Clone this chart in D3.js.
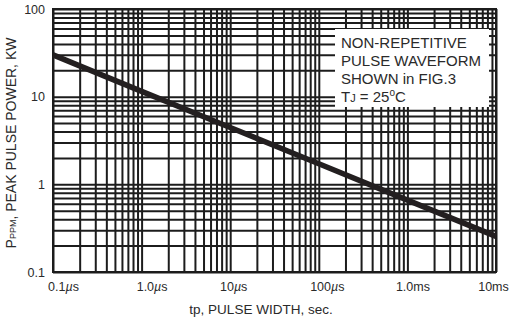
<!DOCTYPE html>
<html>
<head>
<meta charset="utf-8">
<script src="https://cdn.jsdelivr.net/npm/d3@7"></script>
<style>
  body { margin: 0; background: #fff; }
  text { font-family: "Liberation Sans", Arial, sans-serif; fill: #2a2a2a; }
</style>
</head>
<body>
<svg id="chart" width="513" height="320"></svg>
<script>
// pulse width (s) vs peak pulse power (kW)
var pulseWidth = [1e-7, 1e-6, 1e-5, 1e-4, 1e-3, 1e-2];
var peakPower = [30, 11.5, 4.45, 1.72, 0.66, 0.255];

var xDecades = [1e-7, 1e-6, 1e-5, 1e-4, 1e-3, 1e-2];
var xLabels = [["0.1", "\u00b5", "s"], ["1.0", "\u00b5", "s"], ["10", "\u00b5", "s"],
               ["100", "\u00b5", "s"], ["1.0ms", "", ""], ["10ms", "", ""]];
var yDecades = [0.1, 1, 10, 100];
var yLabels = ["0.1", "1", "10", "100"];

var svg = d3.select('#chart');
var margin = { top: 9, left: 53, right: 17, bottom: 48 };
var width = 513 - margin.left - margin.right,
    height = 320 - margin.top - margin.bottom;

var g = svg.append('g').attr('transform', 'translate(' + margin.left + ',' + margin.top + ')');

var x = d3.scaleLog().domain([1e-7, 1e-2]).range([0, width]);
var y = d3.scaleLog().domain([0.1, 100]).range([height, 0]);

// minor grid values 1..9 per decade
var xGrid = [], yGrid = [];
xDecades.forEach(function (d, i) {
  if (i < xDecades.length - 1) for (var k = 1; k < 10; k++) xGrid.push(d * k);
});
xGrid.push(1e-2);
yDecades.forEach(function (d, i) {
  if (i < yDecades.length - 1) for (var k = 1; k < 10; k++) yGrid.push(d * k);
});
yGrid.push(100);

var gridX = g.append('g')
  .attr('transform', 'translate(0,' + height + ')')
  .call(d3.axisBottom(x).tickValues(xGrid).tickSize(-height).tickFormat(''));
var gridY = g.append('g')
  .call(d3.axisLeft(y).tickValues(yGrid).tickSize(-width).tickFormat(''));
[gridX, gridY].forEach(function (a) {
  a.select('.domain').remove();
  a.selectAll('line').attr('stroke', '#1c1c1c').attr('stroke-width', 2);
});

// frame
g.append('rect')
  .attr('width', width).attr('height', height)
  .attr('fill', 'none').attr('stroke', '#1c1c1c').attr('stroke-width', 2);

// legend box
var legend = g.append('g').attr('transform', 'translate(282,20)');
legend.append('rect')
  .attr('width', 154).attr('height', 78)
  .attr('fill', '#fff');
var lt = legend.append('g').style('font-size', '15px');
lt.append('text').attr('x', 6).attr('y', 19).text('NON-REPETITIVE');
lt.append('text').attr('x', 6).attr('y', 37).text('PULSE WAVEFORM');
lt.append('text').attr('x', 6).attr('y', 55).text('SHOWN in FIG.3');
var tj = lt.append('text').attr('x', 6).attr('y', 73);
tj.append('tspan').text('T');
tj.append('tspan').style('font-size', '11px').text('J');
tj.append('tspan').text(' = 25');
tj.append('tspan').style('font-size', '10px').attr('dy', -6).text('o');
tj.append('tspan').attr('dy', 6).text('C');

// curve
var line = d3.line()
  .x(function (d, i) { return x(pulseWidth[i]); })
  .y(function (d) { return y(d); });
g.append('path')
  .datum(peakPower)
  .attr('d', line)
  .attr('fill', 'none')
  .attr('stroke', '#231f20')
  .attr('stroke-width', 5.5);

// x tick labels (slight per-label nudges as in the original)
var xNudge = [10, 10, 3, 8, 5, -3];
var xAxis = g.append('g')
  .attr('transform', 'translate(0,' + height + ')')
  .call(d3.axisBottom(x).tickValues(xDecades).tickSize(0).tickPadding(0).tickFormat(''));
xAxis.select('.domain').remove();
xAxis.selectAll('.tick').each(function (d, i) {
  var t = d3.select(this).append('text')
    .attr('y', 19)
    .attr('x', xNudge[i])
    .attr('text-anchor', 'middle')
    .style('font-size', '12.5px');
  var lab = xLabels[i];
  t.append('tspan').text(lab[0]);
  if (lab[1]) t.append('tspan').style('font-style', 'italic').text(lab[1]);
  if (lab[2]) t.append('tspan').text(lab[2]);
});

// y tick labels
var yAxis = g.append('g')
  .call(d3.axisLeft(y).tickValues(yDecades).tickSize(0).tickPadding(8)
    .tickFormat(function (d, i) { return yLabels[i]; }));
yAxis.select('.domain').remove();
yAxis.selectAll('text').style('font-size', '12.5px').style('fill', '#2a2a2a');

// axis titles
svg.append('text')
  .attr('x', 261).attr('y', 314)
  .attr('text-anchor', 'middle')
  .style('font-size', '13.5px')
  .text('tp, PULSE WIDTH, sec.');

var yt = svg.append('text')
  .attr('transform', 'translate(16,143) rotate(-90)')
  .attr('text-anchor', 'middle')
  .style('font-size', '14px');
yt.append('tspan').text('P');
yt.append('tspan').style('font-size', '9px').text('PPM');
yt.append('tspan').text(', PEAK PULSE POWER, KW');
</script>
</body>
</html>
